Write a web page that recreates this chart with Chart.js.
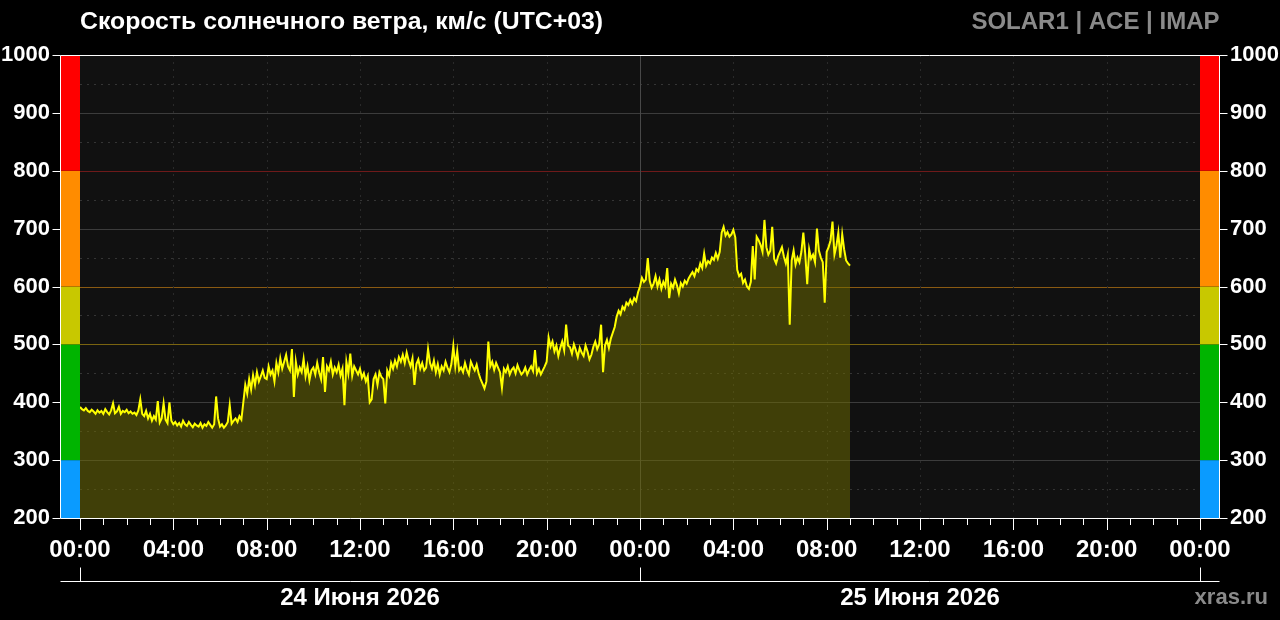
<!DOCTYPE html>
<html>
<head>
<meta charset="utf-8">
<script src="https://cdn.jsdelivr.net/npm/chart.js@4.4.1/dist/chart.umd.min.js"></script>
<style>
    html, body { margin: 0; padding: 0; background: #000; }
    #wrap { width: 1280px; height: 620px; position: relative; }
</style>
</head>
<body>
<div id="wrap"><canvas id="windChart" width="1280" height="620"></canvas></div>
<script>
// Solar wind speed, km/s, one value every 5 minutes from 00:00 24 June (UTC+03)
const stepMinutes = 5;
const speed = [
    392, 388, 386, 390, 385, 383, 387, 384, 380, 386, 382, 385,
    380, 388, 383, 379, 386, 398, 381, 384, 392, 380, 385, 383,
    387, 381, 384, 380, 382, 378, 386, 405, 380, 376, 385, 372,
    380, 368, 376, 370, 402, 365, 372, 398, 370, 364, 400, 368,
    362, 366, 360, 364, 358, 368, 362, 359, 366, 361, 357, 363,
    360, 358, 364, 356, 362, 359, 366, 361, 356, 362, 410, 372,
    358, 362, 356, 360, 366, 395, 363, 368, 372, 366, 376, 370,
    400, 430, 415, 440, 422, 447, 430, 452, 436, 445, 455, 442,
    440, 462, 448, 455, 436, 468, 452, 476, 458, 470, 482, 462,
    455, 492, 409, 470, 448, 460, 452, 475, 445, 462, 438, 455,
    460, 448, 468, 452, 440, 478, 418, 462, 455, 470, 448, 460,
    452, 465, 446, 458, 395, 470, 450, 484, 446, 462, 455, 448,
    458, 442, 450, 436, 445, 400, 405, 440, 448, 430, 452, 444,
    440, 398, 455, 446, 468, 458, 472, 462, 478, 470, 482, 468,
    486, 472, 462, 476, 430, 466, 474, 458, 468, 455, 460, 492,
    468, 458, 472, 452, 466, 448, 462, 455, 470, 460, 452, 466,
    497, 462, 488, 455, 460, 452, 468, 456, 448, 470, 462, 455,
    465, 450, 440, 432, 424, 436, 505, 462, 470, 456, 468, 460,
    452, 425, 458, 452, 462, 448, 456, 460, 450, 464, 455, 448,
    452, 460, 448, 456, 462, 454, 490, 450, 458, 448, 455, 462,
    470, 512, 496, 505, 488, 498, 480, 494, 505, 490, 534, 498,
    495, 484, 500, 490, 478, 494, 486, 480, 498, 488, 474, 482,
    496, 505, 492, 500, 534, 452, 498, 508, 494, 510, 520, 530,
    548, 558, 552, 565, 560, 572, 568, 577, 570, 580, 575, 590,
    600, 615, 608, 612, 649, 610, 598, 605, 618, 600, 612, 596,
    608, 600, 632, 580, 605, 598, 612, 602, 588, 606, 600, 610,
    605, 614, 620, 625, 618, 630, 626, 640, 632, 657, 636, 644,
    640, 650, 646, 658, 648, 660, 693, 703, 688, 694, 686, 690,
    698, 685, 629, 618, 622, 606, 612, 600, 596, 608, 670, 612,
    686, 680, 672, 660, 715, 668, 655, 662, 703, 648, 640, 652,
    660, 668, 652, 640, 655, 534, 645, 662, 638, 650, 642, 660,
    693, 656, 604, 664, 648, 655, 642, 700, 662, 650, 642, 572,
    660, 668, 680, 712, 655, 670, 693, 650, 690, 664, 645, 640,
    636
];

// axes
const hourMin = 0;
const hourMax = 48;
const hourStep = 4;
const speedMin = 200;
const speedMax = 1000;
const speedStep = 100;

// bottom date axis: day boundaries (hours) and labels
const dayEdges = [0, 24, 48];
const dayLabels = ['24 Июня 2026', '25 Июня 2026'];

// speed zones for the side bars
const zoneEdges = [200, 300, 500, 600, 800, 1000];
const zoneColors = ['#0a9bff', '#00b400', '#c8c800', '#ff8c00', '#ff0000'];

// coloured horizontal lines at zone borders
const levelLines = { 500: '#7a6410', 600: '#8a5a12', 800: '#6e1a1a' };

const titleText = 'Скорость солнечного ветра, км/с (UTC+03)';
const sourceText = 'SOLAR1 | ACE | IMAP';
const siteText = 'xras.ru';

const FONT = "'Liberation Sans', Arial, sans-serif";

const points = speed.map((v, i) => ({ x: i * stepMinutes / 60, y: v }));

function pad2(n) { return (n < 10 ? '0' : '') + n; }

const decorPlugin = {
    id: 'decor',
    beforeDatasetsDraw(chart) {
        const ctx = chart.ctx;
        const area = chart.chartArea;
        const x = chart.scales.x;
        const y = chart.scales.y;
        ctx.save();
        // plot background
        ctx.fillStyle = '#111111';
        ctx.fillRect(area.left, area.top, area.right - area.left, area.bottom - area.top);

        // horizontal grid
        ctx.lineWidth = 1;
        for (let v = speedMin + 50; v < speedMax; v += 50) {
            const py = Math.round(y.getPixelForValue(v)) + 0.5;
            ctx.beginPath();
            if (v % 100 === 0) {
                ctx.setLineDash([]);
                ctx.strokeStyle = levelLines[v] || '#3c3c3c';
            } else {
                ctx.setLineDash([2, 5]);
                ctx.strokeStyle = '#353535';
            }
            ctx.moveTo(area.left, py);
            ctx.lineTo(area.right, py);
            ctx.stroke();
        }

        // vertical grid
        for (let h = hourMin + hourStep; h < hourMax; h += hourStep) {
            const px = Math.round(x.getPixelForValue(h)) + 0.5;
            ctx.beginPath();
            if (h % 24 === 0) {
                ctx.setLineDash([]);
                ctx.strokeStyle = '#484848';
            } else {
                ctx.setLineDash([2, 5]);
                ctx.strokeStyle = '#2a2a2a';
            }
            ctx.moveTo(px, area.top);
            ctx.lineTo(px, area.bottom);
            ctx.stroke();
        }
        ctx.setLineDash([]);

        // zone bars on both sides
        for (let i = 0; i < zoneColors.length; i++) {
            const top = y.getPixelForValue(zoneEdges[i + 1]);
            const bot = y.getPixelForValue(zoneEdges[i]);
            ctx.fillStyle = zoneColors[i];
            ctx.fillRect(area.left - 19, top, 19, bot - top);
            ctx.fillRect(area.right, top, 19, bot - top);
        }
        ctx.restore();
    },
    afterDraw(chart) {
        const ctx = chart.ctx;
        const area = chart.chartArea;
        const x = chart.scales.x;
        const y = chart.scales.y;
        const frameL = area.left - 19.5;
        const frameR = area.right + 19.5;
        ctx.save();

        // white frame
        ctx.strokeStyle = '#ffffff';
        ctx.lineWidth = 1;
        ctx.beginPath();
        ctx.moveTo(frameL, area.bottom + 0.5);
        ctx.lineTo(frameL, area.top + 0.5);
        ctx.lineTo(frameR, area.top + 0.5);
        ctx.lineTo(frameR, area.bottom + 0.5);
        ctx.closePath();
        ctx.stroke();

        // y tick marks
        ctx.beginPath();
        for (let v = speedMin; v <= speedMax; v += speedStep) {
            const py = Math.round(y.getPixelForValue(v)) + 0.5;
            ctx.moveTo(frameL - 8, py);
            ctx.lineTo(frameL, py);
            ctx.moveTo(frameR, py);
            ctx.lineTo(frameR + 8, py);
        }
        // x tick marks, every hour, longer every 4 hours
        for (let h = hourMin; h <= hourMax; h++) {
            const px = Math.round(x.getPixelForValue(h)) + 0.5;
            ctx.moveTo(px, area.bottom);
            ctx.lineTo(px, area.bottom + (h % hourStep === 0 ? 12 : 7));
        }
        ctx.stroke();

        // date axis
        const dateY = 581.5;
        ctx.beginPath();
        ctx.moveTo(frameL, dateY);
        ctx.lineTo(frameR, dateY);
        dayEdges.forEach(h => {
            const px = Math.round(x.getPixelForValue(h)) + 0.5;
            ctx.moveTo(px, dateY - 14);
            ctx.lineTo(px, dateY);
        });
        ctx.stroke();

        ctx.textBaseline = 'middle';
        ctx.fillStyle = '#ffffff';
        ctx.font = 'bold 24px ' + FONT;
        ctx.textAlign = 'center';
        dayLabels.forEach((label, i) => {
            const cx = (x.getPixelForValue(dayEdges[i]) + x.getPixelForValue(dayEdges[i + 1])) / 2;
            ctx.fillText(label, cx, 598);
        });

        // titles
        ctx.textAlign = 'left';
        ctx.font = 'bold 24.8px ' + FONT;
        ctx.fillText(titleText, area.left, 22);
        ctx.fillStyle = '#8a8a8a';
        ctx.textAlign = 'right';
        ctx.font = 'bold 24px ' + FONT;
        ctx.fillText(sourceText, frameR, 22);
        ctx.font = 'bold 22px ' + FONT;
        ctx.fillText(siteText, 1268, 598);
        ctx.restore();
    }
};

const tickFont = { family: FONT, size: 22, weight: 'bold' };

const windChart = new Chart(document.getElementById('windChart').getContext('2d'), {
    type: 'line',
    data: {
        datasets: [{
            data: points,
            borderColor: '#ffff00',
            borderWidth: 2,
            backgroundColor: 'rgba(112, 110, 0, 0.5)',
            fill: 'start',
            pointRadius: 0,
            tension: 0
        }]
    },
    options: {
        responsive: false,
        animation: false,
        layout: { padding: { top: 55, left: 0, right: 0, bottom: 0 } },
        plugins: {
            legend: { display: false },
            tooltip: { enabled: false }
        },
        scales: {
            x: {
                type: 'linear',
                min: hourMin,
                max: hourMax,
                grid: { display: false, drawTicks: false },
                border: { display: false },
                ticks: {
                    stepSize: hourStep,
                    color: '#ffffff',
                    font: { family: FONT, size: 24, weight: 'bold' },
                    padding: 18,
                    maxRotation: 0,
                    autoSkip: false,
                    callback: value => pad2(value % 24) + ':00'
                },
                afterFit: scale => { scale.height = 102; }
            },
            y: {
                position: 'left',
                min: speedMin,
                max: speedMax,
                grid: { display: false, drawTicks: false },
                border: { display: false },
                ticks: { stepSize: speedStep, color: '#ffffff', font: tickFont, padding: 30, callback: value => String(value) },
                afterFit: scale => { scale.width = 80; }
            },
            y2: {
                position: 'right',
                min: speedMin,
                max: speedMax,
                grid: { display: false, drawTicks: false },
                border: { display: false },
                ticks: { stepSize: speedStep, color: '#ffffff', font: tickFont, padding: 30, callback: value => String(value) },
                afterFit: scale => { scale.width = 80; }
            }
        }
    },
    plugins: [decorPlugin]
});
</script>
</body>
</html>
